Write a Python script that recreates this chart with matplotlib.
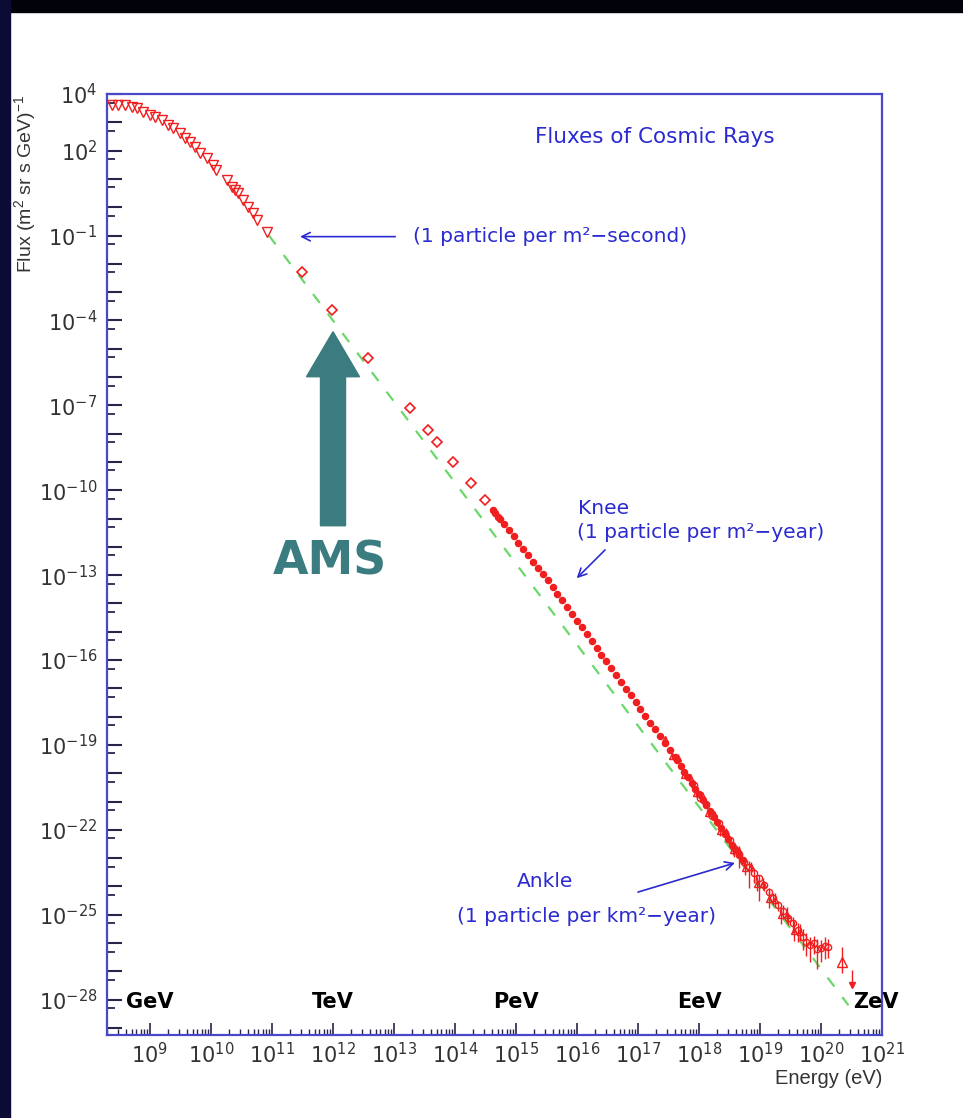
import numpy as np
import matplotlib
matplotlib.use("Agg")
import matplotlib.pyplot as plt
from matplotlib import ticker
from matplotlib.patches import Rectangle, Polygon
from matplotlib.transforms import IdentityTransform

plt.rcParams["mathtext.fontset"] = "custom"
plt.rcParams["mathtext.rm"] = "Liberation Sans"
plt.rcParams["mathtext.it"] = "Liberation Sans:italic"
plt.rcParams["mathtext.bf"] = "Liberation Sans:bold"

# All values are log10(E / eV) and log10(flux / (m^2 sr s GeV)^-1).
# Direct measurements at low energy (open down triangles).
direct_log_e = [8.37, 8.48, 8.59, 8.70, 8.78, 8.89, 9.00, 9.08, 9.19, 9.30,
                9.38, 9.49, 9.57, 9.66, 9.74, 9.82, 9.93, 10.04, 10.09, 10.26,
                10.34, 10.39, 10.45, 10.53, 10.61, 10.69, 10.75, 10.91]
direct_log_f = [3.61, 3.61, 3.60, 3.55, 3.49, 3.37, 3.26, 3.20, 3.08, 2.90,
                2.79, 2.61, 2.43, 2.31, 2.14, 1.90, 1.73, 1.49, 1.31, 0.96,
                0.72, 0.61, 0.49, 0.25, 0.02, -0.22, -0.45, -0.87]

# Balloon / satellite points (open diamonds).
balloon_log_e = [11.49, 11.98, 12.58, 13.26, 13.56, 13.70, 13.97, 14.26, 14.49]
balloon_log_f = [-2.28, -3.63, -5.34, -7.11, -7.87, -8.29, -8.99, -9.76, -10.35]

# Air shower data around the knee (filled dots).
knee_log_e = [14.62, 14.66, 14.70, 14.74, 14.80, 14.88, 14.96, 15.04, 15.12,
              15.20, 15.28, 15.36, 15.44, 15.52, 15.60, 15.68, 15.76, 15.84,
              15.92, 16.00, 16.08, 16.16, 16.24, 16.32, 16.40, 16.48, 16.56,
              16.64, 16.72, 16.80, 16.88, 16.96, 17.04, 17.12, 17.20, 17.28,
              17.36, 17.44, 17.52, 17.60]
knee_log_f = [-10.70, -10.80, -10.93, -11.02, -11.20, -11.40, -11.63, -11.85,
              -12.07, -12.30, -12.52, -12.74, -12.96, -13.19, -13.41, -13.65,
              -13.89, -14.13, -14.37, -14.61, -14.85, -15.09, -15.33, -15.57,
              -15.81, -16.05, -16.29, -16.53, -16.77, -17.01, -17.25, -17.49,
              -17.73, -17.97, -18.21, -18.45, -18.69, -18.93, -19.17, -19.41]

# Second knee up to the ankle (filled dots).
high_log_e = [17.64, 17.70, 17.76, 17.82, 17.88, 17.94, 18.00, 18.06, 18.12,
              18.18, 18.24, 18.30, 18.36, 18.42, 18.48, 18.54, 18.60, 18.66,
              18.72]
high_log_f = [-19.55, -19.75, -19.94, -20.15, -20.33, -20.55, -20.74, -20.95,
              -21.13, -21.35, -21.53, -21.74, -21.93, -22.14, -22.32, -22.53,
              -22.72, -22.90, -23.08]

# Ankle region with error bars (open circles).
ankle_log_e = [17.92, 18.02, 18.12, 18.22, 18.32, 18.42, 18.50, 18.58, 18.66,
               18.74, 18.82, 18.90, 18.98, 19.06, 19.14, 19.22, 19.30, 19.38,
               19.46, 19.54, 19.62, 19.70]
ankle_log_f = [-20.42, -20.86, -21.10, -21.50, -21.76, -22.12, -22.35, -22.66,
               -22.84, -23.12, -23.30, -23.52, -23.70, -23.95, -24.18, -24.40,
               -24.66, -24.86, -25.12, -25.30, -25.55, -25.78]
ankle_err_lo = [0.08, 0.10, 0.10, 0.12, 0.10, 0.15, 0.12, 0.30, 0.50, 0.20,
                0.75, 0.35, 0.80, 0.20, 0.15, 0.25, 0.20, 0.30, 0.25, 0.35,
                0.40, 0.45]
ankle_err_hi = [0.06, 0.08, 0.08, 0.10, 0.08, 0.12, 0.10, 0.12, 0.20, 0.15,
                0.20, 0.18, 0.12, 0.15, 0.12, 0.18, 0.15, 0.20, 0.18, 0.22,
                0.25, 0.28]

# A further overlapping air shower data set (open up triangles).
shower_log_e = [17.45, 17.55, 17.65, 17.75, 17.85, 17.95, 18.05, 18.15, 18.25,
                18.35, 18.45, 18.55, 18.65, 18.75, 18.85, 18.95, 19.05, 19.15,
                19.25, 19.35, 19.45, 19.55, 19.65]
shower_log_f = [-18.80, -19.38, -19.45, -20.05, -20.12, -20.70, -20.78, -21.40,
                -21.45, -22.05, -22.08, -22.70, -22.75, -23.35, -23.32, -23.90,
                -23.92, -24.45, -24.48, -25.02, -25.00, -25.58, -25.62]
shower_err = [0.10, 0.10, 0.12, 0.12, 0.10, 0.15, 0.12, 0.15, 0.12, 0.18,
              0.15, 0.20, 0.18, 0.25, 0.20, 0.25, 0.22, 0.30, 0.25, 0.30,
              0.28, 0.35, 0.30]

# Highest energy events.
tail_log_e = [19.76, 19.82, 19.88, 19.94, 20.00, 20.06, 20.12]
tail_log_f = [-25.95, -26.08, -26.00, -26.22, -26.18, -26.10, -26.14]
tail_err_lo = [0.50, 0.60, 0.40, 0.70, 0.50, 0.45, 0.40]
tail_err_hi = [0.30, 0.30, 0.25, 0.35, 0.30, 0.30, 0.28]

uhe_log_e = [20.34]
uhe_log_f = [-26.66]
uhe_err_lo = [0.41]
uhe_err_hi = [0.53]

limit_log_e = [20.50]
limit_log_f = [-27.48]
limit_bar = [0.53]

# Reference power law.
power_log_e = [10.95, 20.45]
power_log_f = [-1.0, -28.2]

unit_names = ["GeV", "TeV", "PeV", "EeV", "ZeV"]
unit_log_e = [9, 12, 15, 18, 20.9]

y_label_exps = [4, 2, -1, -4, -7, -10, -13, -16, -19, -22, -25, -28]

RED = "#f01e1e"
BLUE = "#2a2ad0"
FRAME = "#4848c8"
TEAL = "#3a7c80"


def p10(vals):
    return 10.0 ** np.asarray(vals, dtype=float)


def errs(log_f, lo, hi):
    f = p10(log_f)
    return [f - p10(np.asarray(log_f) - np.asarray(lo)),
            p10(np.asarray(log_f) + np.asarray(hi)) - f]


fig = plt.figure(figsize=(9.63, 11.18), dpi=100)
fig.patch.set_facecolor("white")
fig.add_artist(Rectangle((0, 1 - 12 / 1118), 1, 12 / 1118,
                         transform=fig.transFigure, color="#02020a", zorder=0))
fig.add_artist(Rectangle((0, 0), 10 / 963, 1, transform=fig.transFigure,
                         color="#0b0b35", zorder=0))

ax = fig.add_axes([107 / 963, 1 - 1035 / 1118, 775 / 963, 941 / 1118])
ax.set_xscale("log")
ax.set_yscale("log")
ax.set_xlim(10 ** 8.295, 1e21)
ax.set_ylim(10 ** -29.25, 1e4)

ax.plot(p10(power_log_e), p10(power_log_f), color="#6ad86a", lw=1.6,
        ls=(0, (5, 6)), zorder=1)

ax.plot(p10(direct_log_e), p10(direct_log_f), ls="none", marker="v", ms=7.5,
        mfc="none", mec=RED, mew=1.0, zorder=3)
ax.plot(p10(balloon_log_e), p10(balloon_log_f), ls="none", marker="D", ms=5,
        mfc="none", mec=RED, mew=1.2, zorder=3)
ax.plot(p10(knee_log_e), p10(knee_log_f), ls="none", marker="o", ms=4.4,
        color=RED, zorder=3)
ax.plot(p10(high_log_e), p10(high_log_f), ls="none", marker="o", ms=4.4,
        color=RED, zorder=3)
ax.errorbar(p10(shower_log_e), p10(shower_log_f),
            yerr=errs(shower_log_f, shower_err, shower_err), ls="none",
            marker="^", ms=5, mfc="none", mec=RED, mew=1.0, ecolor=RED,
            elinewidth=1.0, capsize=0, zorder=3)
ax.errorbar(p10(ankle_log_e), p10(ankle_log_f),
            yerr=errs(ankle_log_f, ankle_err_lo, ankle_err_hi), ls="none",
            marker="o", ms=4.5, mfc="none", mec=RED, mew=1.0, ecolor=RED,
            elinewidth=1.0, capsize=0, zorder=3)
ax.errorbar(p10(tail_log_e), p10(tail_log_f),
            yerr=errs(tail_log_f, tail_err_lo, tail_err_hi), ls="none",
            marker="o", ms=4.5, mfc="none", mec=RED, mew=1.0, ecolor=RED,
            elinewidth=1.0, capsize=0, zorder=3)
ax.errorbar(p10(uhe_log_e), p10(uhe_log_f),
            yerr=errs(uhe_log_f, uhe_err_lo, uhe_err_hi), ls="none",
            marker="^", ms=7, mfc="none", mec=RED, mew=1.0, ecolor=RED,
            elinewidth=1.0, capsize=0, zorder=3)
ax.errorbar(p10(limit_log_e), p10(limit_log_f),
            yerr=errs(limit_log_f, [0], limit_bar), ls="none",
            marker="v", ms=5, color=RED, ecolor=RED, elinewidth=1.0,
            capsize=0, zorder=3)

# Frame and axes
for sp in ax.spines.values():
    sp.set_color(FRAME)
    sp.set_linewidth(1.6)

ax.xaxis.set_major_locator(ticker.LogLocator(base=10, subs=(1.0,), numticks=100))
ax.xaxis.set_minor_locator(ticker.LogLocator(base=10, subs=np.arange(2, 10),
                                             numticks=100))
ax.yaxis.set_major_locator(ticker.LogLocator(base=10, subs=(1.0,), numticks=100))
ax.yaxis.set_minor_locator(ticker.LogLocator(base=10, subs=(5.0,), numticks=100))
ax.xaxis.set_minor_formatter(ticker.NullFormatter())
ax.yaxis.set_minor_formatter(ticker.NullFormatter())


def x_fmt(v, pos):
    e = int(round(np.log10(v)))
    return rf"$\mathregular{{10^{{{e}}}}}$"


def y_fmt(v, pos):
    e = int(round(np.log10(v)))
    return rf"$\mathregular{{10^{{{e}}}}}$" if e in y_label_exps else ""


ax.xaxis.set_major_formatter(ticker.FuncFormatter(x_fmt))
ax.yaxis.set_major_formatter(ticker.FuncFormatter(y_fmt))
ax.tick_params(which="both", direction="in", color="#26264a",
               top=False, right=False, labelcolor="#333333", labelsize=15)
ax.tick_params(axis="y", which="major", length=11, width=1.5, pad=7)
ax.tick_params(axis="y", which="minor", length=6, width=1.3)
ax.tick_params(axis="x", which="major", length=9, width=1.2, pad=5)
ax.tick_params(axis="x", which="minor", length=4, width=1.0)

fig.text(25 / 963, 1 - 95 / 1118, r"Flux (m$^2$ sr s GeV)$^{-1}$",
         rotation=90, ha="center", va="top", fontsize=14,
         family="Liberation Sans", color="#333333")
fig.text(882 / 963, 1 - 1078 / 1118, "Energy (eV)", ha="right", va="center",
         fontsize=14.5, family="Liberation Sans", color="#333333")

# Labels and arrows in the plot
txt = dict(color=BLUE, family="DejaVu Sans", fontsize=14.5)
ax.text(0.707, 0.954, "Fluxes of Cosmic Rays", transform=ax.transAxes,
        ha="center", va="center", **{**txt, "fontsize": 15.5})
ax.text(10 ** 13.31, 10 ** -1.04, "(1 particle per m²−second)",
        ha="left", va="center", **txt)
ax.text(10 ** 16.02, 10 ** -10.63, "Knee", ha="left", va="center", **txt)
ax.text(10 ** 16.0, 10 ** -11.51, "(1 particle per m²−year)",
        ha="left", va="center", **txt)
ax.text(10 ** 15.02, 10 ** -23.81, "Ankle", ha="left", va="center", **txt)
ax.text(10 ** 14.03, 10 ** -25.05, "(1 particle per km²−year)",
        ha="left", va="center", **txt)

arrow = dict(arrowstyle="->,head_length=0.6,head_width=0.3", color=BLUE,
             lw=1.2, shrinkA=0, shrinkB=0)
ax.annotate("", xy=(10 ** 11.46, 10 ** -1.04), xytext=(10 ** 13.02, 10 ** -1.04),
            arrowprops=arrow)
ax.annotate("", xy=(10 ** 15.995, 10 ** -13.11), xytext=(10 ** 16.46, 10 ** -12.11),
            arrowprops=arrow)
ax.annotate("", xy=(10 ** 18.59, 10 ** -23.17), xytext=(10 ** 17.0, 10 ** -24.2),
            arrowprops=arrow)

for name, le in zip(unit_names, unit_log_e):
    ax.text(10 ** le, 10 ** -28.1, name, ha="center", va="center",
            fontsize=15, fontweight="bold", family="DejaVu Sans",
            color="black", clip_on=False, zorder=5)

# AMS marker: block arrow pointing at the TeV point
tx, ty = ax.transData.transform((1e12, 10 ** -4.4))
verts = [(tx, ty), (tx + 26.5, ty - 45), (tx + 12.5, ty - 45),
         (tx + 12.5, ty - 194), (tx - 12.5, ty - 194), (tx - 12.5, ty - 45),
         (tx - 26.5, ty - 45)]
fig.add_artist(Polygon(verts, closed=True, transform=IdentityTransform(),
                       color=TEAL, zorder=6))
ax.annotate("AMS", xy=(1e12, 10 ** -4.4), xytext=(-2, -166),
            textcoords="offset points", ha="center", va="center",
            fontsize=33, fontweight="bold", family="DejaVu Sans", color=TEAL)

fig.savefig("out.png", dpi=100)
